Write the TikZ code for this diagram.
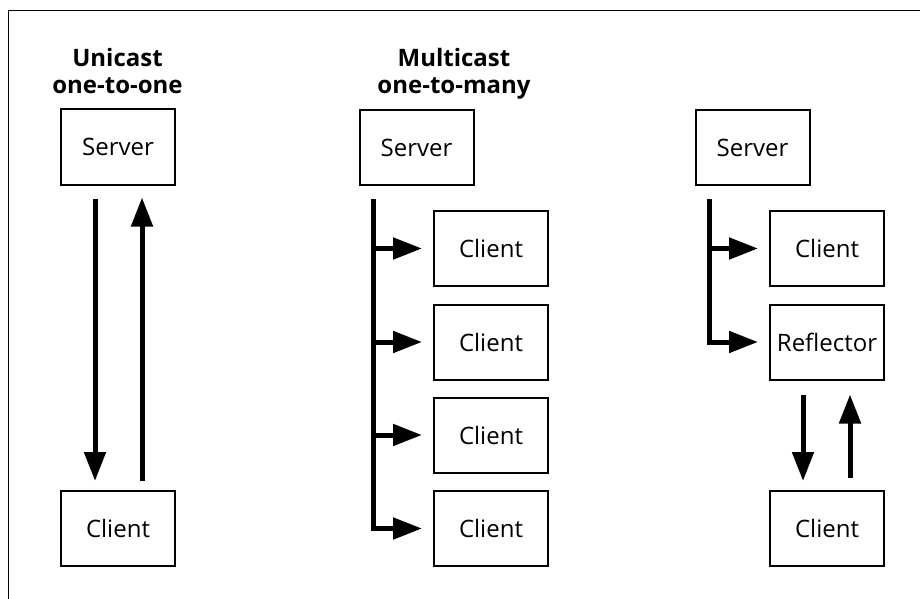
\documentclass[tikz,border=0pt]{standalone}
\usepackage{fontspec}
\setmainfont{Open Sans}
\usetikzlibrary{arrows.meta}

\tikzset{
  box/.style={draw, line width=2pt, minimum width=114pt, minimum height=75pt,
              inner sep=0pt, font=\fontsize{24}{28}\selectfont},
  title/.style={anchor=base, font=\fontsize{24}{27}\selectfont\bfseries},
  arr/.style={line width=5pt, -{Triangle[length=29pt,width=21pt]}},
  trunk/.style={line width=5pt},
  frame/.style={line width=1.3pt}
}

\begin{document}
\begin{tikzpicture}[x=1pt, y=-1pt]
\useasboundingbox (0,0) rectangle (920,599);

% outer frame (left and top edges)
\coordinate (fbl) at (8.5,599);
\coordinate (ftl) at (8.5,10.5);
\coordinate (ftr) at (920,10.5);
\draw[frame] (fbl) -- (ftl) -- (ftr);

% ---------- unicast ----------
\node[title] (ut1) at (117.5,67) {Unicast};
\node[title] (ut2) at (117.5,94) {one-to-one};
\node[box] (us) at (118,147) {Server};
\node[box] (uc) at (118,528.5) {Client};
\draw[arr] ([xshift=-23pt,yshift=-13pt]us.south) -- ([xshift=-23pt,yshift=9pt]uc.north);
\draw[arr] ([xshift=24pt,yshift=9pt]uc.north) -- ([xshift=24pt,yshift=-12pt]us.south);

% ---------- multicast ----------
\node[title] (mt1) at (454,67) {Multicast};
\node[title] (mt2) at (454,94) {one-to-many};
\node[box] (ms) at (416.5,147.5) {Server};
\node[box] (mc1) at (491,248.5) {Client};
\node[box] (mc2) at (491,342) {Client};
\node[box] (mc3) at (491,435) {Client};
\node[box] (mc4) at (491,528.5) {Client};
\coordinate (mtop) at ([xshift=15pt,yshift=-13pt]ms.south west);
\draw[arr] (mtop) |- ([xshift=-11pt]mc4.west);
\draw[arr] (mtop |- mc1.west) -- ([xshift=-11pt]mc1.west);
\draw[arr] (mtop |- mc2.west) -- ([xshift=-11pt]mc2.west);
\draw[arr] (mtop |- mc3.west) -- ([xshift=-11pt]mc3.west);

% ---------- reflector ----------
\node[box] (rs) at (752.5,147.5) {Server};
\node[box] (rc) at (827,248.5) {Client};
\node[box] (rr) at (827,342) {Reflector};
\node[box] (rb) at (827,528.5) {Client};
\coordinate (rtop) at ([xshift=15pt,yshift=-13pt]rs.south west);
\draw[arr] (rtop) |- ([xshift=-11pt]rr.west);
\draw[arr] (rtop |- rc.west) -- ([xshift=-11pt]rc.west);
\draw[arr] ([xshift=-24pt,yshift=-14pt]rr.south) -- ([xshift=-24pt,yshift=9pt]rb.north);
\draw[arr] ([xshift=23pt,yshift=12pt]rb.north) -- ([xshift=23pt,yshift=-14pt]rr.south);
\end{tikzpicture}
\end{document}
